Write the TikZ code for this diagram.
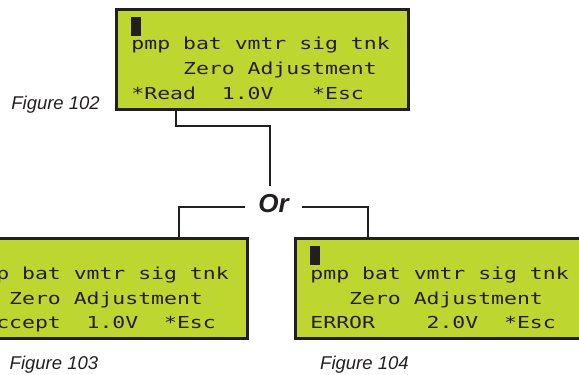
\documentclass[tikz,border=0pt]{standalone}
\usepackage{fontspec}
\usepackage{xcolor}
\usepackage{tikz}
\usetikzlibrary{positioning, calc}
\newfontfamily\lcdfont[FakeStretch=1.3]{DejaVu Sans Mono}
\newfontfamily\figfont{Liberation Sans}
\definecolor{lcdgreen}{RGB}{190,214,48}
\definecolor{lcddark}{RGB}{35,31,32}
\tikzset{
  screen/.style={rectangle, draw=lcddark, fill=lcdgreen,
    minimum width=292pt, minimum height=100pt, line width=3.5pt, inner sep=0pt},
  lcdtext/.style={anchor=base west, inner sep=0pt, text=lcddark,
    font=\lcdfont\fontsize{16.5}{20}\selectfont},
  figlabel/.style={inner sep=0pt, text=lcddark,
    font=\figfont\itshape\fontsize{18.5}{22}\selectfont},
  ortext/.style={anchor=base, inner xsep=13.5pt, inner ysep=8pt, text=lcddark,
    font=\figfont\bfseries\itshape\fontsize{26}{30}\selectfont},
  conn/.style={line width=2pt, color=lcddark}
}
\begin{document}
\begin{tikzpicture}[x=1pt, y=-1pt]
  \useasboundingbox (0,0) rectangle (579,375);
  \clip (0,0) rectangle (579,375);

  % Screens
  \node[screen] (top) at (262.5, 59.5) {};
  \node[screen] (left) at (101.5, 288.5) {};
  \node[screen] (right) at (441.5, 288.5) {};

  % Cursor blocks
  \fill[lcddark] ([shift={(16,9)}]top.north west) rectangle ++(10.5,19);
  \fill[lcddark] ([shift={(16,9)}]left.north west) rectangle ++(10.5,19);
  \fill[lcddark] ([shift={(16,9)}]right.north west) rectangle ++(10.5,19);

  % Figure 102
  \node[lcdtext] (top2) at ([shift={(16.5,42)}]top.north west) {pmp bat vmtr sig tnk};
  \node[lcdtext] (top3) at ([yshift=-25pt]top2.base west) {~~~~Zero Adjustment};
  \node[lcdtext] (top4) at ([yshift=-24.5pt]top3.base west) {*Read~~1.0V~~~*Esc};

  % Figure 103
  \node[lcdtext] (left2) at ([shift={(16.5,43)}]left.north west) {pmp bat vmtr sig tnk};
  \node[lcdtext] (left3) at ([yshift=-25pt]left2.base west) {~~~Zero Adjustment};
  \node[lcdtext] (left4) at ([yshift=-24pt]left3.base west) {*Accept~~1.0V~~*Esc};

  % Figure 104
  \node[lcdtext] (right2) at ([shift={(16.5,43)}]right.north west) {pmp bat vmtr sig tnk};
  \node[lcdtext] (right3) at ([yshift=-25pt]right2.base west) {~~~Zero Adjustment};
  \node[lcdtext] (right4) at ([yshift=-24pt]right3.base west) {ERROR~~~~2.0V~~*Esc};

  % Captions
  \node[figlabel, anchor=base east] (fig102) at (100, 109) {Figure 102};
  \node[figlabel, anchor=base west] (fig103) at (9.5, 369) {Figure 103};
  \node[figlabel, anchor=base west] (fig104) at (320, 369) {Figure 104};

  % Or branch
  \node[ortext] (or) at (273.5, 212) {Or};
  \draw[conn] ([xshift=-86.5pt]top.south) -- ++(0,15) -| ([xshift=-3.5pt]or.north);
  \draw[conn] ([yshift=-3.5pt]or.west) -| ([xshift=77pt]left.north);
  \draw[conn] ([yshift=-3.5pt]or.east) -| ([xshift=-73.5pt]right.north);
\end{tikzpicture}
\end{document}
